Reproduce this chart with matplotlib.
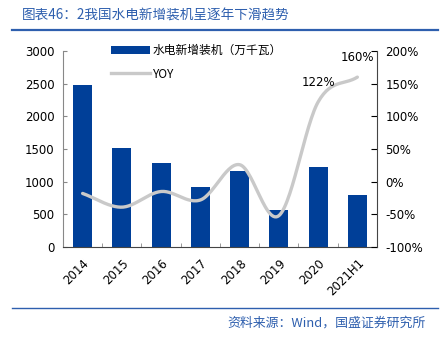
import matplotlib
matplotlib.use('Agg')
import matplotlib.pyplot as plt
import numpy as np

plt.rcParams['font.family'] = ['DejaVu Sans', 'Noto Sans CJK SC']

# Data
years = ['2014', '2015', '2016', '2017', '2018', '2019', '2020', '2021H1']
capacity = [2480, 1510, 1280, 920, 1160, 560, 1225, 790]
yoy = [-18, -39, -15, -28, 26, -52, 122, 160]
labeled = {6: '122%', 7: '160%'}

bar_color = '#003f98'
line_color = '#c9c9c9'
frame_blue = '#2e5fae'


def smooth(xs, ys, n=30):
    # Catmull-Rom curve through the points, like a smoothed line in a spreadsheet
    xs = np.asarray(xs, float)
    ys = np.asarray(ys, float)
    px = np.concatenate([[2 * xs[0] - xs[1]], xs, [2 * xs[-1] - xs[-2]]])
    py = np.concatenate([[2 * ys[0] - ys[1]], ys, [2 * ys[-1] - ys[-2]]])
    out_x, out_y = [], []
    t = np.linspace(0, 1, n)
    for i in range(1, len(px) - 2):
        for p, out in ((px, out_x), (py, out_y)):
            p0, p1, p2, p3 = p[i - 1], p[i], p[i + 1], p[i + 2]
            out.extend(0.5 * (2 * p1 + (-p0 + p2) * t
                              + (2 * p0 - 5 * p1 + 4 * p2 - p3) * t ** 2
                              + (-p0 + 3 * p1 - 3 * p2 + p3) * t ** 3))
    return np.array(out_x), np.array(out_y)


fig = plt.figure(figsize=(4.48, 3.37), dpi=100)
ax = fig.add_axes([0.1406, 0.267, 0.7009, 0.5817])
ax2 = ax.twinx()

x = np.arange(len(years))
bars = ax.bar(x, capacity, width=0.48, color=bar_color, zorder=2,
              label='水电新增装机（万千瓦）')
ax.set_ylim(0, 3000)
ax.set_yticks(range(0, 3001, 500))
ax.set_xlim(-0.5, len(years) - 0.5)
ax.set_xticks(x)
ax.set_xticklabels(years, rotation=45, ha='right', rotation_mode='anchor')
ax.set_xticks(np.arange(-0.5, len(years)), minor=True)
ax.tick_params(axis='x', which='major', length=0, pad=7, labelsize=8.5)
ax.tick_params(axis='x', which='minor', length=3, direction='in',
               color='#888888')
ax.tick_params(axis='y', direction='in', length=3, labelsize=8.5, pad=6,
               color='#888888')

sx, sy = smooth(x, yoy)
ax2.plot(sx, sy, color=line_color, lw=2.4, solid_capstyle='round', zorder=3)
line_handle, = ax.plot([], [], color=line_color, lw=2.4, label='YOY')
ax2.set_ylim(-100, 200)
ax2.set_yticks(range(-100, 201, 50))
ax2.set_yticklabels([f'{v}%' for v in range(-100, 201, 50)])
ax2.tick_params(axis='y', direction='in', length=4, labelsize=8.5, pad=6)
for i, txt in labeled.items():
    ax2.annotate(txt, (x[i], yoy[i]), xytext=(0, 14),
                 textcoords='offset points', ha='center', va='center',
                 fontsize=8.5)

for a in (ax, ax2):
    a.spines['top'].set_visible(False)
ax.spines['right'].set_visible(False)
ax.spines['left'].set_color('#888888')
ax.spines['bottom'].set_color('#444444')
ax2.spines['left'].set_visible(False)
ax2.spines['bottom'].set_visible(False)
ax2.spines['right'].set_color('#444444')
ax.set_zorder(ax2.get_zorder() - 1)
ax.patch.set_visible(False)

leg = ax2.legend([bars, line_handle], ['水电新增装机（万千瓦）', 'YOY'],
                 loc='upper left', bbox_to_anchor=(0.12, 1.09), frameon=False,
                 handlelength=3.3, handletextpad=0.2, labelspacing=0.9,
                 prop={'family': ['Noto Sans CJK SC'], 'size': 8.5})

# Header and footer
fig.text(0.049, 0.955, '图表46：2我国水电新增装机呈逐年下滑趋势', color=frame_blue,
         fontsize=9.8, style='italic', family=['Noto Sans CJK SC'],
         ha='left', va='center')
fig.add_artist(plt.Line2D([0.027, 0.978], [0.911, 0.911], color=frame_blue,
                          lw=1.6, transform=fig.transFigure))
fig.add_artist(plt.Line2D([0.027, 0.978], [0.085, 0.085], color=frame_blue,
                          lw=1.0, transform=fig.transFigure))
fig.text(0.95, 0.042, '资料来源：Wind，国盛证券研究所', color=frame_blue,
         fontsize=9.3, style='italic', family=['Noto Sans CJK SC'],
         ha='right', va='center')

plt.savefig('out.png', dpi=100)
